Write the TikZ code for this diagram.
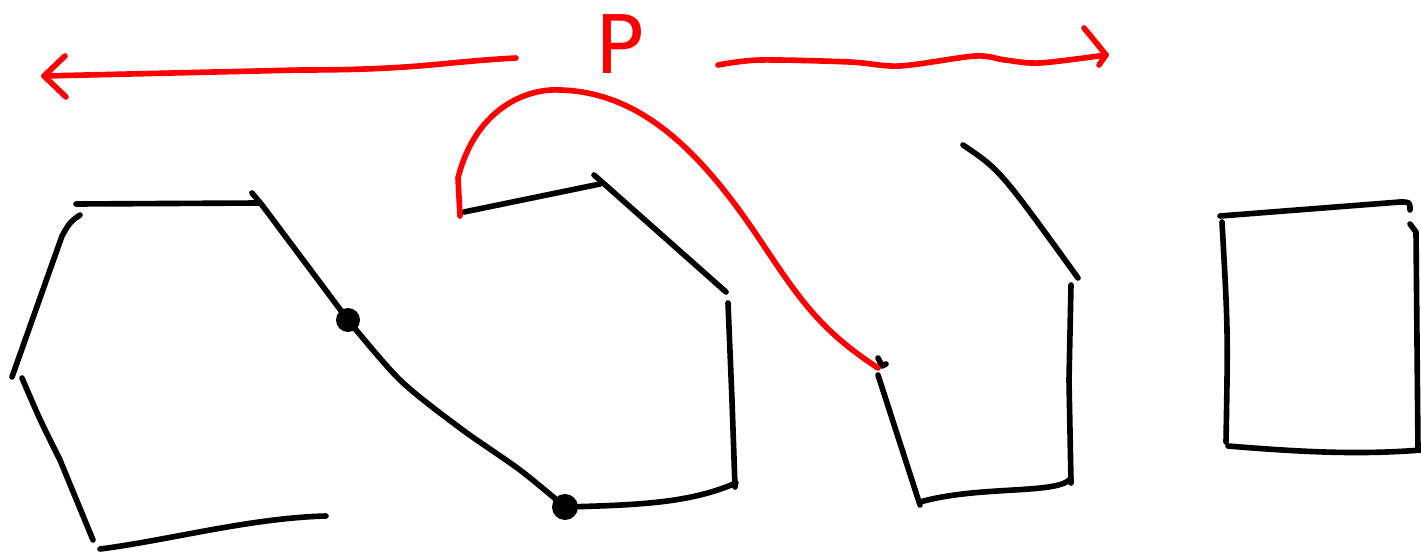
\documentclass[tikz,border=0pt]{standalone}
\usepackage{fontspec}
\setsansfont{DejaVu Sans}
\begin{document}
\begin{tikzpicture}[x=0.02cm,y=-0.02cm,
  pen/.style={line width=3.2pt, line cap=round, line join=round},
  redpen/.style={pen, red}]
\useasboundingbox (0,0) rectangle (1421,554);
\node[red, font=\sffamily\fontsize{46}{46}\selectfont] (P) at (620,44) {P};
\coordinate (Lstart) at (516,58);
\coordinate (Ltip) at (44,76);
\coordinate (Rstart) at (718,65);
\coordinate (Rtip) at (1106,55);
% the two arrows
\draw[redpen] (Lstart) .. controls (440,62) and (420,70) .. (300,70) -- (Ltip);
\draw[redpen] (65,56) -- (Ltip) -- (66,97);
\draw[redpen] plot[smooth] coordinates {(Rstart) (760,60) (850,62) (900,66) (975,56) (1005,60) (1040,63) (Rtip)};
\draw[redpen] (1084,28) -- (1098,45) -- (Rtip) -- (1099,65);
% first shape
\draw[pen] (76,204) -- (260,203);
\draw[pen] (80,215) .. controls (70,222) .. (62,236) -- (12,377);
\draw[pen] (22,378) .. controls (40,420) .. (60,460) -- (93,540);
\draw[pen] (100,549) .. controls (170,540) and (250,518) .. (326,516);
\draw[pen] (252,193) -- (262,205) -- (348,320);
\draw[pen] plot[smooth] coordinates {(348,320) (400,380) (460,428) (520,470) (565,507)};
\draw[pen] (565,507) .. controls (640,505) and (690,503) .. (736,483);
\fill (348,320) circle[radius=12];
\fill (565,507) circle[radius=13];
% second shape
\draw[pen] (464,212) -- (600,184);
\draw[pen] (594,175) -- (602,182) -- (726,292);
\draw[pen] (728,303) -- (732,400) -- (735,487);
% third shape
\draw[pen] (963,145) .. controls (1000,170) .. (1078,278);
\draw[pen] (1071,285) -- (1069,380) -- (1071,483);
\draw[pen] (1071,478) .. controls (1060,495) and (980,485) .. (920,502);
\draw[pen] (920,505) -- (878,375);
\draw[pen] (878,358) -- (882,366) -- (886,364);
% the red path
\draw[redpen] (460,216) -- (458,178) .. controls (475,110) and (525,88) .. (560,90) .. controls (640,92) and (700,150) .. (760,240) .. controls (800,300) and (820,330) .. (878,368);
% square
\draw[pen] (1220,216) -- (1400,202) .. controls (1410,202) .. (1410,210);
\draw[pen] (1222,222) .. controls (1228,330) .. (1226,442);
\draw[pen] (1228,446) .. controls (1300,452) and (1360,455) .. (1421,450);
\draw[pen] (1410,224) -- (1416,232) -- (1418,450);
\end{tikzpicture}
\end{document}
